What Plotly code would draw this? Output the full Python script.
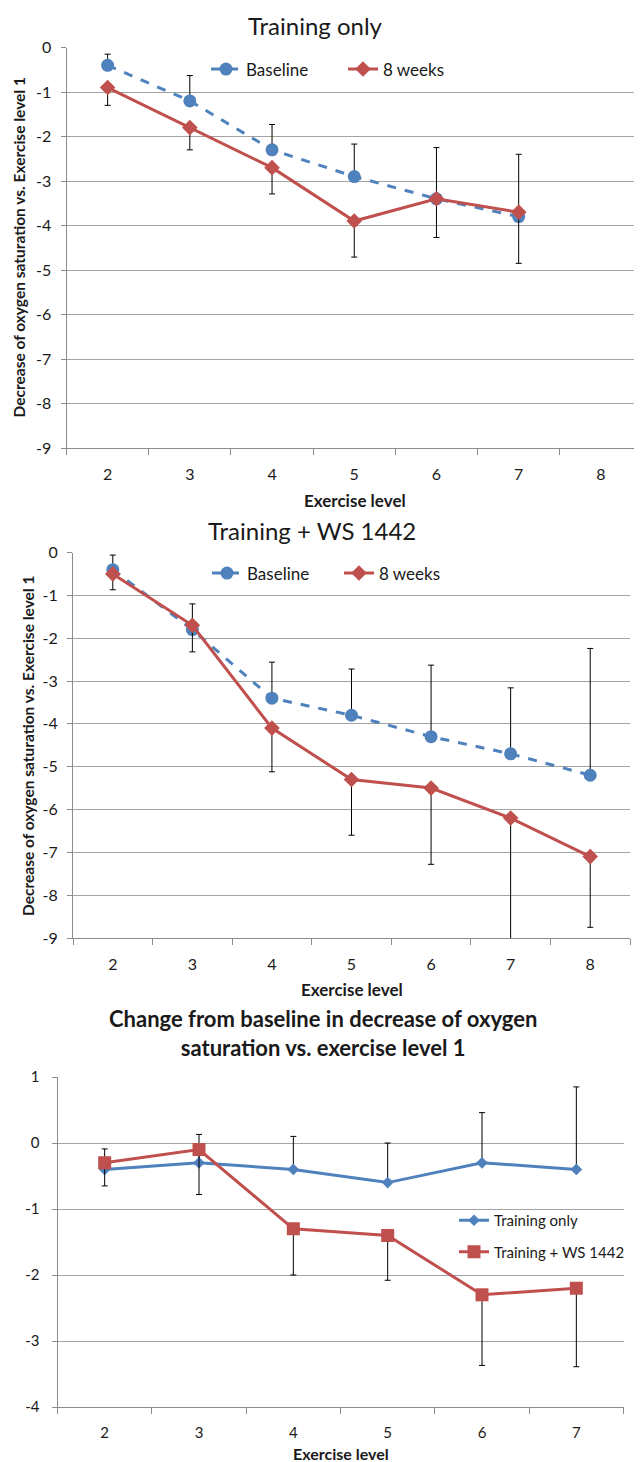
import plotly.graph_objects as go

# page body has an 8px margin: figure is laid out in reference pixels minus 8
OFF = 8
W, H = 634, 1454

# ---------------- data ----------------
levels_a = [2, 3, 4, 5, 6, 7]
a_baseline = [-0.4, -1.2, -2.3, -2.9, -3.4, -3.8]
a_baseline_err_plus = [0.25, 0.57, 0.57, 0.73, 1.15, 1.4]
a_8weeks = [-0.9, -1.8, -2.7, -3.9, -3.4, -3.7]
a_8weeks_err_minus = [0.4, 0.5, 0.59, 0.81, 0.87, 1.15]

levels_b = [2, 3, 4, 5, 6, 7, 8]
b_baseline = [-0.4, -1.8, -3.4, -3.8, -4.3, -4.7, -5.2]
b_baseline_err_plus = [0.34, 0.6, 0.84, 1.08, 1.67, 1.54, 2.96]
b_8weeks = [-0.5, -1.7, -4.1, -5.3, -5.5, -6.2, -7.1]
b_8weeks_err_minus = [0.37, 0.62, 1.02, 1.3, 1.78, 3.0, 1.65]

levels_c = [2, 3, 4, 5, 6, 7]
c_training = [-0.4, -0.3, -0.4, -0.6, -0.3, -0.4]
c_training_err_plus = [0.31, 0.43, 0.5, 0.6, 0.76, 1.25]
c_ws = [-0.3, -0.1, -1.3, -1.4, -2.3, -2.2]
c_ws_err_minus = [0.35, 0.68, 0.7, 0.68, 1.07, 1.19]

x_tick_labels_ab = ["2", "3", "4", "5", "6", "7", "8"]
x_tick_labels_c = ["2", "3", "4", "5", "6", "7"]
y_tick_vals_ab = [0, -1, -2, -3, -4, -5, -6, -7, -8, -9]
y_tick_labels_ab = ["0", "-1", "-2", "-3", "-4", "-5", "-6", "-7", "-8", "-9"]
y_tick_vals_c = [1, 0, -1, -2, -3, -4]
y_tick_labels_c = ["1", "0", "-1", "-2", "-3", "-4"]

# ---------------- style ----------------
BLUE = "#4f81bd"
RED = "#c0504d"
GRID = "#a3a3a3"
AXIS = "#8c8c8c"
FONT = "Lato, 'Open Sans', sans-serif"
TXT = "#1a1a1a"


def px_x(p):
    return (p - OFF) / W


def px_y(p):
    return 1 - (p - OFF) / H


def err(plus=None, minus=None, n=0):
    return dict(
        type="data",
        symmetric=False,
        array=plus if plus is not None else [0] * n,
        arrayminus=minus if minus is not None else [0] * n,
        color="black",
        thickness=1,
        width=3,
    )


fig = go.Figure()

# ---- chart A ----
fig.add_trace(go.Scatter(
    x=levels_a, y=a_baseline, name="Baseline", mode="lines+markers",
    line=dict(color=BLUE, width=3, dash="dash"),
    marker=dict(symbol="circle", size=13, color=BLUE),
    error_y=err(plus=a_baseline_err_plus, n=len(levels_a)),
    xaxis="x", yaxis="y", legend="legend"))
fig.add_trace(go.Scatter(
    x=levels_a, y=a_8weeks, name="8 weeks", mode="lines+markers",
    line=dict(color=RED, width=3),
    marker=dict(symbol="diamond", size=12, color=RED),
    error_y=err(minus=a_8weeks_err_minus, n=len(levels_a)),
    xaxis="x", yaxis="y", legend="legend"))

# ---- chart B ----
fig.add_trace(go.Scatter(
    x=levels_b, y=b_baseline, name="Baseline", mode="lines+markers",
    line=dict(color=BLUE, width=3, dash="dash"),
    marker=dict(symbol="circle", size=13, color=BLUE),
    error_y=err(plus=b_baseline_err_plus, n=len(levels_b)),
    xaxis="x2", yaxis="y2", legend="legend2"))
fig.add_trace(go.Scatter(
    x=levels_b, y=b_8weeks, name="8 weeks", mode="lines+markers",
    line=dict(color=RED, width=3),
    marker=dict(symbol="diamond", size=12, color=RED),
    error_y=err(minus=b_8weeks_err_minus, n=len(levels_b)),
    xaxis="x2", yaxis="y2", legend="legend2"))

# ---- chart C ----
fig.add_trace(go.Scatter(
    x=levels_c, y=c_training, name="Training only", mode="lines+markers",
    line=dict(color=BLUE, width=3),
    marker=dict(symbol="diamond", size=9, color=BLUE),
    error_y=err(plus=c_training_err_plus, n=len(levels_c)),
    xaxis="x3", yaxis="y3", legend="legend3", legendgroup="g1"))
fig.add_trace(go.Scatter(
    x=levels_c, y=c_ws, name="Training + WS 1442", mode="lines+markers",
    line=dict(color=RED, width=3),
    marker=dict(symbol="square", size=13, color=RED),
    error_y=err(minus=c_ws_err_minus, n=len(levels_c)),
    xaxis="x3", yaxis="y3", legend="legend3", legendgroup="g2"))


def xaxis(domain, anchor, rng, labels, tfs=16):
    return dict(
        domain=domain, anchor=anchor, range=rng, automargin=False,
        tickmode="array", tickvals=[int(v) for v in labels], ticktext=labels,
        ticks="", showgrid=False, zeroline=False,
        showline=True, linecolor=AXIS, linewidth=1,
        tickfont=dict(family=FONT, size=tfs, color=TXT),
        ticklabelstandoff=12,
        minor=dict(ticks="outside", tick0=0.5, dtick=1, ticklen=6,
                   tickcolor=AXIS, tickwidth=1, showgrid=False),
        fixedrange=True,
    )


def yaxis(domain, anchor, rng, vals, labels, tfs=16, standoff=6):
    return dict(
        domain=domain, anchor=anchor, range=rng, automargin=False,
        tickmode="array", tickvals=vals, ticktext=labels,
        showgrid=True, gridcolor=GRID, gridwidth=1, zeroline=False,
        showline=True, linecolor=AXIS, linewidth=1,
        ticks="outside", ticklen=5, tickcolor=AXIS,
        ticklabelstandoff=standoff,
        tickfont=dict(family=FONT, size=tfs, color=TXT),
        fixedrange=True,
    )


leg_common = dict(
    bgcolor="rgba(0,0,0,0)", borderwidth=0,
)

fig.update_layout(
    template="none",
    width=W, height=H,
    margin=dict(l=0, r=0, t=0, b=0, pad=0, autoexpand=False),
    paper_bgcolor="white", plot_bgcolor="white",
    font=dict(family=FONT, color=TXT),
    xaxis=xaxis([px_x(66.5), 1.0], "y", [1.5, 8.5], x_tick_labels_ab),
    yaxis=yaxis([px_y(448), px_y(47.5)], "x", [-9, 0], y_tick_vals_ab, y_tick_labels_ab),
    xaxis2=xaxis([px_x(73), px_x(630)], "y2", [1.5, 8.5], x_tick_labels_ab),
    yaxis2=yaxis([px_y(938), px_y(552.5)], "x2", [-9, 0], y_tick_vals_ab, y_tick_labels_ab),
    xaxis3=xaxis([px_x(57.5), px_x(623.5)], "y3", [1.5, 7.5], x_tick_labels_c, 15),
    yaxis3=yaxis([px_y(1407), px_y(1077)], "x3", [-4, 1], y_tick_vals_c, y_tick_labels_c, 15, 9),
    legend=dict(orientation="h", x=px_x(206), y=px_y(69.5), xanchor="left", yanchor="middle",
                entrywidth=92, entrywidthmode="pixels",
                font=dict(family=FONT, size=17, color=TXT), **leg_common),
    legend2=dict(orientation="h", x=px_x(207), y=px_y(573.5), xanchor="left", yanchor="middle",
                 entrywidth=87, entrywidthmode="pixels",
                 font=dict(family=FONT, size=17, color=TXT), **leg_common),
    legend3=dict(orientation="v", x=px_x(454), y=px_y(1236), xanchor="left", yanchor="middle",
                 tracegroupgap=9,
                 font=dict(family=FONT, size=15, color=TXT), **leg_common),
    showlegend=True,
)

annos = [
    dict(text="Training only", x=px_x(315), y=px_y(26), font=dict(size=24)),
    dict(text="Training + WS 1442", x=px_x(312), y=px_y(530), font=dict(size=24)),
    dict(text="<b>Change from baseline in decrease of oxygen<br>saturation vs. exercise level 1</b>",
         x=px_x(323), y=px_y(1033), font=dict(size=22)),
    dict(text="<b>Exercise level</b>", x=px_x(355), y=px_y(500), font=dict(size=17)),
    dict(text="<b>Exercise level</b>", x=px_x(352), y=px_y(989), font=dict(size=17)),
    dict(text="<b>Exercise level</b>", x=px_x(341), y=px_y(1453), font=dict(size=16)),
    dict(text="<b>Decrease of oxygen saturation vs. Exercise level 1</b>",
         x=px_x(18.5), y=px_y(248), textangle=-90, font=dict(size=15.5)),
    dict(text="<b>Decrease of oxygen saturation vs. Exercise level 1</b>",
         x=px_x(28), y=px_y(746), textangle=-90, font=dict(size=15.5)),
]
for a in annos:
    a.update(xref="paper", yref="paper", showarrow=False,
             xanchor="center", yanchor="middle")
    a["font"].update(family=FONT, color=TXT)
fig.update_layout(annotations=annos)

fig.write_html("out.html")
